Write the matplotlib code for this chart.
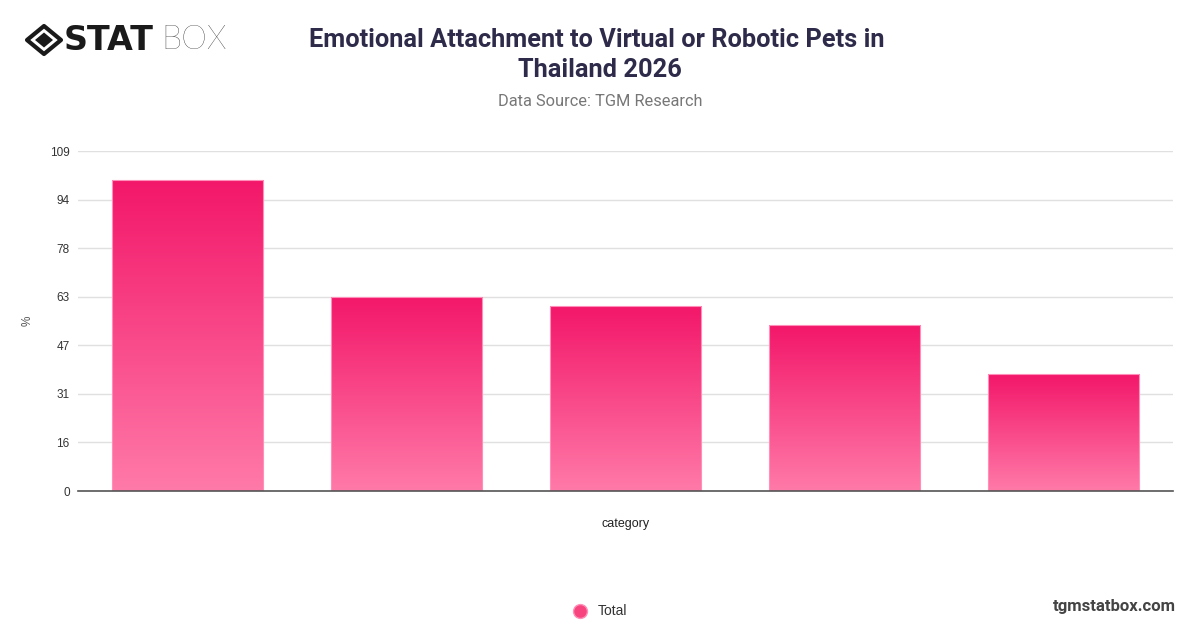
import numpy as np
import matplotlib.pyplot as plt
from matplotlib.patches import Polygon
from matplotlib.lines import Line2D
from matplotlib.colors import LinearSegmentedColormap

categories = ["A", "B", "C", "D", "E"]
values = [99.7, 62.3, 59.3, 53.1, 37.5]
y_ticks = [0, 15.57, 31.14, 46.71, 62.29, 77.86, 93.43, 109]
y_tick_labels = ["0", "16", "31", "47", "63", "78", "94", "109"]

W, H = 1200, 628
fig = plt.figure(figsize=(12, 6.28), dpi=100)
ax = fig.add_axes([78 / W, 1 - 491 / H, (1173 - 78) / W, (491 - 151) / H])

grad = LinearSegmentedColormap.from_list("pinkgrad", ["#ff7aa8", "#f3176a"])
x = np.arange(len(categories))
bars = ax.bar(x, values, width=0.69, color="none", edgecolor="#ff8fb8", linewidth=0.8, zorder=3)
for b in bars:
    x0, y0 = b.get_x(), b.get_y()
    im = ax.imshow(np.linspace(0, 1, 256).reshape(-1, 1), cmap=grad, aspect="auto",
                   extent=[x0, x0 + b.get_width(), y0, y0 + b.get_height()],
                   origin="lower", zorder=2)
    im.set_clip_path(b)

ax.set_xlim(-0.5, len(categories) - 0.5)
ax.set_ylim(0, 109)
ax.set_yticks(y_ticks)
ax.set_yticklabels(y_tick_labels, fontsize=8.5, color="#333333", family="Liberation Sans")
ax.set_xticks([])
ax.tick_params(axis="y", length=0, pad=6)
ax.grid(axis="y", color="#e0e0e0", linewidth=1, zorder=0)
ax.set_axisbelow(True)
for s in ["top", "right", "left"]:
    ax.spines[s].set_visible(False)
ax.spines["bottom"].set_color("#555555")
ax.spines["bottom"].set_linewidth(1.2)
ax.spines["bottom"].set_zorder(4)

fig.text(28 / W, 1 - 321 / H, "%", rotation=90, ha="center", va="center",
         fontsize=8.5, color="#555555", family="Liberation Sans")
fig.text(626 / W, 1 - 524 / H, "category", ha="center", va="center",
         fontsize=9, color="#222222", family="Liberation Sans")

# title
fig.text(597 / W, 1 - 40 / H, "Emotional Attachment to Virtual or Robotic Pets in",
         ha="center", va="center", fontsize=18.3, fontweight="bold", color="#2e2b4a", family="Roboto")
fig.text(600 / W, 1 - 70 / H, "Thailand 2026",
         ha="center", va="center", fontsize=18.3, fontweight="bold", color="#2e2b4a", family="Roboto")
fig.text(600 / W, 1 - 101 / H, "Data Source: TGM Research",
         ha="center", va="center", fontsize=11.8, color="#777777", family="Roboto")

# legend
fig.lines.append(Line2D([580 / W], [1 - 611 / H], transform=fig.transFigure, marker="o",
                        markersize=10, markerfacecolor="#f7447f", markeredgecolor="#ff8fb8",
                        linestyle="none", figure=fig))
fig.text(598 / W, 1 - 611 / H, "Total", ha="left", va="center",
         fontsize=10, color="#333333", family="Liberation Sans")

# watermark
fig.text(1176 / W, 1 - 606 / H, "tgmstatbox.com", ha="right", va="center",
         fontsize=12, fontweight="bold", color="#444444", family="Roboto")

# logo
cx, cy = 44 / W, 1 - 40 / H
dx, dy = 17 / W, 14 / H
outer = Polygon([[cx - dx, cy], [cx, cy + dy], [cx + dx, cy], [cx, cy - dy]], closed=True,
                transform=fig.transFigure, facecolor="none", edgecolor="#1a1a1a", linewidth=3,
                joinstyle="round", figure=fig)
ix, iy = 9 / W, 7.5 / H
inner = Polygon([[cx - ix, cy], [cx, cy + iy], [cx + ix, cy], [cx, cy - iy]], closed=True,
                transform=fig.transFigure, facecolor="#1a1a1a", edgecolor="none", figure=fig)
fig.patches.extend([outer, inner])
fig.text(64 / W, 1 - 40 / H, "STAT", ha="left", va="center", fontsize=24,
         fontweight="bold", color="#1a1a1a", family="DejaVu Sans")
fig.text(161 / W, 1 - 40 / H, "BOX", ha="left", va="center", fontsize=23.5,
         fontweight="light", color="#1a1a1a", family="Lato")

fig.savefig("out.png", dpi=100, facecolor="white")
